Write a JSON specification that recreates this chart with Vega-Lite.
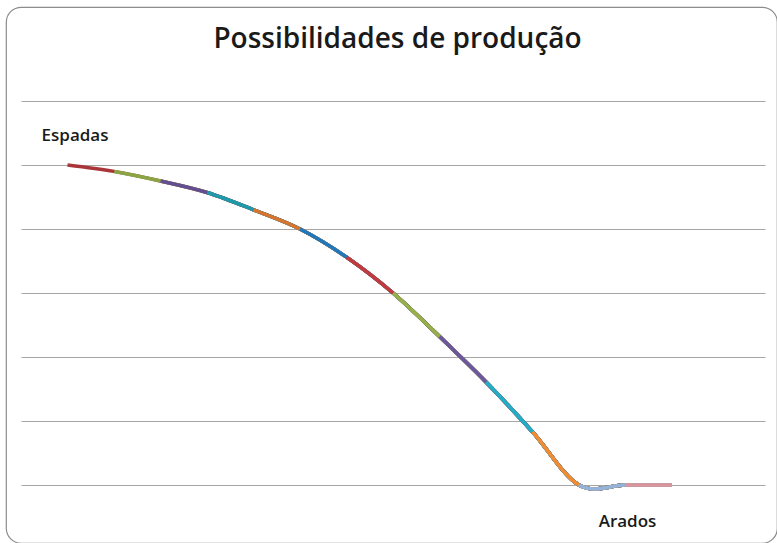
{
  "$schema": "https://vega.github.io/schema/vega-lite/v6.json",
  "width": 771,
  "height": 536,
  "autosize": "none",
  "padding": {"left": 6, "top": 7, "right": 0, "bottom": 0},
  "background": "white",
  "config": {
    "view": {"stroke": "#8c8c8c", "strokeWidth": 1.2, "cornerRadius": 15},
    "font": "Open Sans"
  },
  "title": {
    "text": "Possibilidades de produção",
    "font": "Open Sans",
    "fontSize": 28,
    "fontWeight": 600,
    "color": "#1a1a1a",
    "anchor": "middle",
    "frame": "group",
    "orient": "top",
    "baseline": "alphabetic",
    "offset": -69,
    "dx": 6
  },
  "data": {
    "values": [
      {"ponto": 1, "espadas": 5.0},
      {"ponto": 2, "espadas": 4.9},
      {"ponto": 3, "espadas": 4.75},
      {"ponto": 4, "espadas": 4.57},
      {"ponto": 5, "espadas": 4.3},
      {"ponto": 6, "espadas": 4.0},
      {"ponto": 7, "espadas": 3.56},
      {"ponto": 8, "espadas": 3.0},
      {"ponto": 9, "espadas": 2.32},
      {"ponto": 10, "espadas": 1.61},
      {"ponto": 11, "espadas": 0.83},
      {"ponto": 12, "espadas": 0},
      {"ponto": 13, "espadas": 0},
      {"ponto": 14, "espadas": 0}
    ]
  },
  "encoding": {
    "x": {
      "field": "ponto",
      "type": "quantitative",
      "scale": {"domain": [0, 16], "range": [15, 759], "nice": false, "zero": false},
      "axis": {
        "title": "Arados",
        "grid": false,
        "domain": false,
        "ticks": false,
        "labels": false,
        "titleX": 621,
        "titleY": -16.5,
        "titleAlign": "center",
        "titleBaseline": "alphabetic",
        "titleFont": "Open Sans",
        "titleFontSize": 17,
        "titleFontWeight": 600,
        "titleColor": "#1a1a1a"
      }
    },
    "y": {
      "field": "espadas",
      "type": "quantitative",
      "scale": {"domain": [0, 6], "range": [478, 94], "nice": false, "zero": true},
      "axis": {
        "title": "Espadas",
        "values": [0, 1, 2, 3, 4, 5, 6],
        "grid": true,
        "gridColor": "#a6a6a6",
        "gridWidth": 1.2,
        "domain": false,
        "ticks": false,
        "labels": false,
        "titleAngle": 0,
        "titleX": 68.5,
        "titleY": 133,
        "titleAlign": "center",
        "titleBaseline": "alphabetic",
        "titleFont": "Open Sans",
        "titleFontSize": 17,
        "titleFontWeight": 600,
        "titleColor": "#1a1a1a"
      }
    }
  },
  "layer": [
    {"encoding": {}, "mark": {"type": "line", "interpolate": "cardinal", "strokeWidth": 3.5, "color": "#A8353A"}},
    {"encoding": {}, "transform": [{"filter": "datum.ponto >= 1"}], "mark": {"type": "line", "interpolate": "cardinal", "strokeWidth": 3.5, "color": "#8AA544", "strokeDash": [0, 47.1, 5000]}},
    {"encoding": {}, "transform": [{"filter": "datum.ponto >= 2"}], "mark": {"type": "line", "interpolate": "cardinal", "strokeWidth": 3.5, "color": "#634E92", "strokeDash": [0, 47.6, 5000]}},
    {"encoding": {}, "transform": [{"filter": "datum.ponto >= 3"}], "mark": {"type": "line", "interpolate": "cardinal", "strokeWidth": 3.5, "color": "#1E9AAA", "strokeDash": [0, 48.0, 5000]}},
    {"encoding": {}, "transform": [{"filter": "datum.ponto >= 4"}], "mark": {"type": "line", "interpolate": "cardinal", "strokeWidth": 3.5, "color": "#D7742E", "strokeDash": [0, 49.7, 5000]}},
    {"encoding": {}, "transform": [{"filter": "datum.ponto >= 5"}], "mark": {"type": "line", "interpolate": "cardinal", "strokeWidth": 3.5, "color": "#1F78BE", "strokeDash": [0, 50.4, 5000]}},
    {"encoding": {}, "transform": [{"filter": "datum.ponto >= 6"}], "mark": {"type": "line", "interpolate": "cardinal", "strokeWidth": 3.5, "color": "#C23A3D", "strokeDash": [0, 54.5, 5000]}},
    {"encoding": {}, "transform": [{"filter": "datum.ponto >= 7"}], "mark": {"type": "line", "interpolate": "cardinal", "strokeWidth": 3.5, "color": "#93B24A", "strokeDash": [0, 58.8, 5000]}},
    {"encoding": {}, "transform": [{"filter": "datum.ponto >= 8"}], "mark": {"type": "line", "interpolate": "cardinal", "strokeWidth": 3.5, "color": "#6C56A0", "strokeDash": [0, 63.8, 5000]}},
    {"encoding": {}, "transform": [{"filter": "datum.ponto >= 9"}], "mark": {"type": "line", "interpolate": "cardinal", "strokeWidth": 3.5, "color": "#22AEC8", "strokeDash": [0, 65.1, 5000]}},
    {"encoding": {}, "transform": [{"filter": "datum.ponto >= 10"}], "mark": {"type": "line", "interpolate": "cardinal", "strokeWidth": 3.5, "color": "#F58B2E", "strokeDash": [0, 68.3, 5000]}},
    {"encoding": {}, "transform": [{"filter": "datum.ponto >= 11"}], "mark": {"type": "line", "interpolate": "cardinal", "strokeWidth": 3.5, "color": "#93B3DD", "strokeDash": [0, 70.8, 5000]}},
    {"encoding": {}, "transform": [{"filter": "datum.ponto >= 12"}], "mark": {"type": "line", "interpolate": "cardinal", "strokeWidth": 3.5, "color": "#D9959B", "strokeDash": [0, 46.5, 5000]}}
  ]
}
